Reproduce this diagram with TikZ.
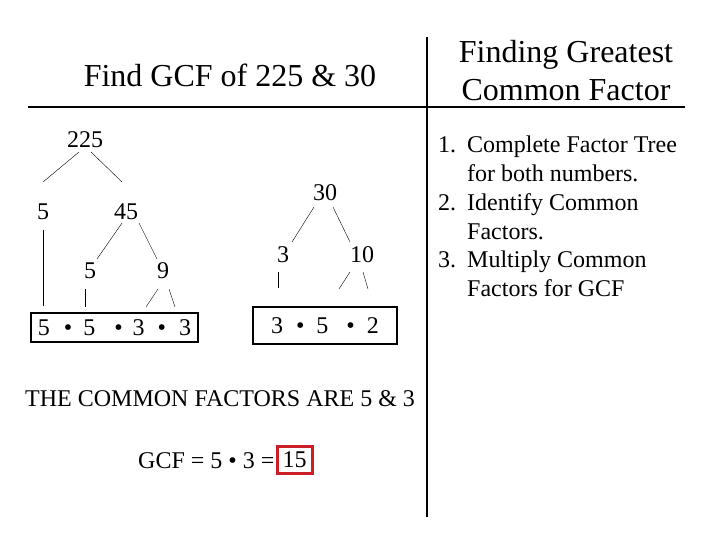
\documentclass[tikz,border=0pt]{standalone}
\usepackage{fontspec}
\setmainfont{Liberation Serif}
\usetikzlibrary{positioning,calc}
\definecolor{gcfred}{RGB}{204,30,38}

\begin{document}
\begin{tikzpicture}[x=1pt, y=-1pt,
        every node/.style={font=\fontsize{24}{28.7}\selectfont, inner sep=0pt},
        bigtext/.style={font=\fontsize{32}{38}\selectfont},
        factorbox/.style={draw, line width=1.2pt},
        answerbox/.style={draw=gcfred, line width=3pt, minimum width=35pt, minimum height=27pt}]
        \useasboundingbox (0,0) rectangle (720,540);
        % Frame lines
        \draw[line width=1.2pt] (28,107) -- (685,107);
        \draw[line width=1.2pt] (427,37) -- (427,517);
        % Headings
        \node[bigtext, anchor=base] (title) at (230,87) {Find GCF of 225 \& 30};
        \node[bigtext, align=center] (heading) at (566,71) {Finding Greatest\\Common Factor};
        % Factor tree of 225
        \node (n225) at (85,140) {225};
        \node (n5a) at (43,212) {5};
        \node (n45) at (126,212) {45};
        \node (n5b) at (90,271) {5};
        \node (n9) at (163,271) {9};
        \draw ($(n225)+(-6,12)$) -- ($(n5a)+(0,-30)$);
        \draw ($(n225)+(6,12)$) -- ($(n45)+(-4,-30)$);
        \draw ($(n45)+(-4,11)$) -- ($(n5b)+(7,-12)$);
        \draw ($(n45)+(13,11)$) -- ($(n9)+(-6,-12)$);
        \draw ($(n5a)+(0,18)$) -- ($(n5a)+(0,94)$);
        \draw ($(n5b)+(-5,18)$) -- ($(n5b)+(-5,36)$);
        \draw ($(n9)+(-5,18)$) -- ($(n9)+(-17,36)$);
        \draw ($(n9)+(6,18)$) -- ($(n9)+(12,36)$);
        \node[factorbox, minimum width=167pt, minimum height=29pt] (boxA) at (114.5,327.5)
            {5\hspace{14pt}\textbullet\hspace{11pt}5\hspace{19pt}\textbullet\hspace{10pt}3\hspace{13pt}\textbullet\hspace{13pt}3};
        % Factor tree of 30
        \node (n30) at (325,193) {30};
        \node (n3) at (283,255) {3};
        \node (n10) at (362,255) {10};
        \draw ($(n30)+(-11,14)$) -- ($(n3)+(9,-13)$);
        \draw ($(n30)+(8,14)$) -- ($(n10)+(-12,-13)$);
        \draw ($(n3)+(-5,17)$) -- ($(n3)+(-5,33)$);
        \draw ($(n10)+(-12,17)$) -- ($(n10)+(-23,34)$);
        \draw ($(n10)+(1,17)$) -- ($(n10)+(6,34)$);
        \node[factorbox, minimum width=144pt, minimum height=37pt] (boxB) at (325,325.5)
            {3\hspace{13pt}\textbullet\hspace{12pt}5\hspace{18pt}\textbullet\hspace{12pt}2};
        % Result
        \node[anchor=base west] (common) at (25,406) {THE COMMON FACTORS ARE 5 \& 3};
        \node[anchor=base west] (gcf) at (138,468) {GCF = 5 \textbullet\ 3 =};
        \node[answerbox, right=1pt of gcf] (n15) {15};
        % Steps
        \node[anchor=west] (steps) at (438,219) {\begin{tabular}{@{}l@{\hspace{11pt}}l@{}}
            1. & Complete Factor Tree\\
               & for both numbers.\\
            2. & Identify Common\\
               & Factors.\\
            3. & Multiply Common\\
               & Factors for GCF
        \end{tabular}};
    \end{tikzpicture}
\end{document}
